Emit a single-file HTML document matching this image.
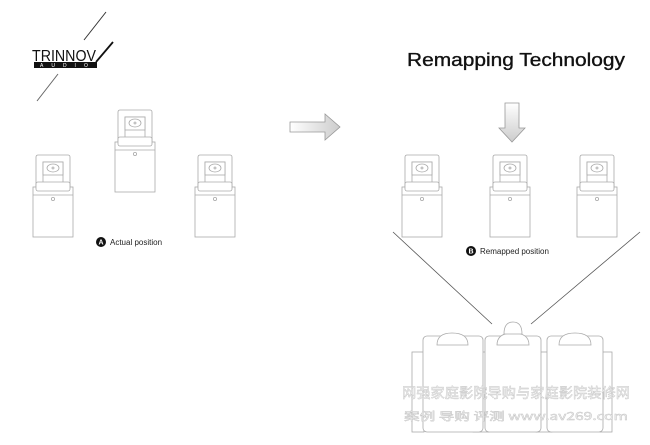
<!DOCTYPE html>
<html><head><meta charset="utf-8"><style>
html,body{margin:0;padding:0;background:#fff;width:650px;height:445px;overflow:hidden}
svg{display:block}
</style></head><body>
<svg width="650" height="445" viewBox="0 0 650 445" xmlns="http://www.w3.org/2000/svg" font-family="Liberation Sans, sans-serif">
<defs>
<g id="spk" fill="#fff" stroke="#aaa" stroke-width="0.8">
  <rect x="3" y="0" width="34" height="38" rx="2"/>
  <rect x="10" y="7" width="20" height="31"/>
  <rect x="10" y="7" width="20" height="13"/>
  <ellipse cx="20" cy="13" rx="6" ry="4"/>
  <circle cx="20" cy="13" r="1"/>
  <rect x="0" y="32" width="40" height="50"/>
  <rect x="3" y="27" width="34" height="9" rx="2" fill="#fff"/>
  <line x1="0" y1="40" x2="40" y2="40"/>
  <circle cx="20" cy="44" r="1.6"/>
</g>
<linearGradient id="ag" x1="0" y1="0" x2="0" y2="1"><stop offset="0" stop-color="#fff"/><stop offset="1" stop-color="#ccc"/></linearGradient>
<linearGradient id="ag2" x1="0" y1="0" x2="1" y2="0"><stop offset="0" stop-color="#fff"/><stop offset="1" stop-color="#ccc"/></linearGradient>
</defs>

<!-- logo -->
<line x1="106" y1="12" x2="84" y2="40" stroke="#333" stroke-width="1"/>
<line x1="58" y1="74" x2="37" y2="101" stroke="#666" stroke-width="1"/>
<text x="32" y="61" font-size="16" fill="#111" textLength="64" lengthAdjust="spacingAndGlyphs">TRINNOV</text>
<rect x="34" y="62" width="63" height="6" fill="#111"/>
<text x="40" y="67" font-size="5" fill="#fff" letter-spacing="8">AUDIO</text>
<line x1="96" y1="62" x2="113" y2="42" stroke="#111" stroke-width="1.8"/>

<!-- left speakers -->
<use href="#spk" x="33" y="155"/>
<use href="#spk" x="115" y="110"/>
<use href="#spk" x="195" y="155"/>
<circle cx="101" cy="242" r="5" fill="#111"/>
<text x="101" y="244.5" font-size="7" fill="#fff" text-anchor="middle" font-weight="bold">A</text>
<text x="110" y="245" font-size="8" fill="#222">Actual position</text>

<!-- right arrow -->
<path d="M290 122 H325 V114 L340 127 L325 140 V132 H290 Z" fill="url(#ag2)" stroke="#999" stroke-width="0.8"/>

<!-- title -->
<text x="407" y="66" font-size="18" fill="#111" stroke="#111" stroke-width="0.35" textLength="218" lengthAdjust="spacingAndGlyphs">Remapping Technology</text>
<!-- down arrow -->
<path d="M505 103 V128 H499 L512 142 L525 128 H519 V103 Z" fill="url(#ag)" stroke="#999" stroke-width="0.8"/>

<use href="#spk" x="402" y="155"/>
<use href="#spk" x="490" y="155"/>
<use href="#spk" x="577" y="155"/>
<circle cx="471" cy="251" r="5" fill="#111"/>
<text x="471" y="253.5" font-size="7" fill="#fff" text-anchor="middle" font-weight="bold">B</text>
<text x="480" y="254" font-size="8" fill="#222">Remapped position</text>

<line x1="393" y1="232" x2="492" y2="324" stroke="#555" stroke-width="0.8"/>
<line x1="640" y1="232" x2="531" y2="324" stroke="#555" stroke-width="0.8"/>

<!-- seats -->
<g fill="#fff" stroke="#aaa" stroke-width="0.8">
  <rect x="412" y="352" width="12" height="80"/>
  <rect x="600" y="352" width="12" height="80"/>
  <rect x="473" y="352" width="16" height="80"/>
  <rect x="536" y="352" width="16" height="80"/>
  <rect x="423" y="336" width="60" height="96" rx="4"/>
  <rect x="485" y="336" width="56" height="96" rx="4"/>
  <rect x="547" y="336" width="56" height="96" rx="4"/>
  <path d="M437 345 Q437 333 452 333 Q468 333 468 345 Z"/>
  <path d="M497 345 Q497 333 513 333 Q529 333 529 345 Z"/>
  <path d="M559 345 Q559 333 575 333 Q591 333 591 345 Z"/>
  <path d="M504 334 Q504 322 513 322 Q522 322 522 334 Z"/>
</g>
<text x="402" y="398" font-size="14" fill="#f2f2f2" stroke="#c4c4c4" stroke-width="0.4" font-family="Noto Sans CJK SC, sans-serif" textLength="228" lengthAdjust="spacingAndGlyphs">网强家庭影院导购与家庭影院装修网</text>
<text x="404" y="420" font-size="11" fill="#f2f2f2" stroke="#c4c4c4" stroke-width="0.4" font-family="Noto Sans CJK SC, sans-serif" textLength="224" lengthAdjust="spacingAndGlyphs">案例 导购 评测  www.av269.com</text>
</svg>
</body></html>
